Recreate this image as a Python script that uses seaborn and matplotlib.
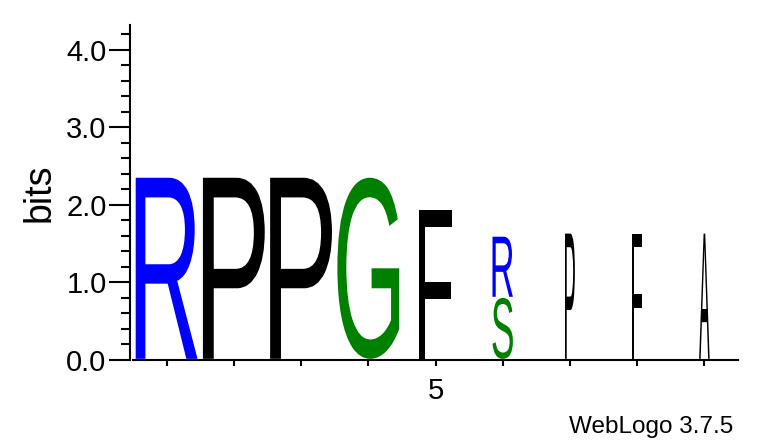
import numpy as np
import matplotlib
matplotlib.use("Agg")
import matplotlib.pyplot as plt
import seaborn as sns
from matplotlib.textpath import TextPath
from matplotlib.patches import PathPatch
from matplotlib.font_manager import FontProperties
from matplotlib.transforms import Affine2D
from matplotlib.ticker import MultipleLocator

positions    = [1, 2, 3, 4, 5, 6, 7, 8, 9]
column_width = [1.0, 1.0, 1.0, 1.0, 0.53, 0.33, 0.16, 0.16, 0.17]   # stack width fraction

# letters listed bottom-to-top inside each stack
letter_pos  = [1, 2, 3, 4, 5, 6, 6, 7, 8, 9]
letters     = ["R", "P", "P", "G", "F", "S", "R", "P", "F", "A"]
letter_bits = [2.35, 2.35, 2.35, 2.35, 1.93, 0.80, 0.79, 1.63, 1.63, 1.63]

y_ticks       = [0.0, 1.0, 2.0, 3.0, 4.0]
y_tick_labels = ["0.0", "1.0", "2.0", "3.0", "4.0"]
x_tick_labels = ["", "", "", "", "5", "", "", "", ""]
y_max         = 4.32

# ── Style ──────────────────────────────────────────────────
sns.set_style("ticks")
plt.rcParams["font.family"] = ["Liberation Sans", "DejaVu Sans"]

colours = {"R": "#0000ff", "S": "#008000", "G": "#008000",
           "P": "#000000", "F": "#000000", "A": "#000000"}
LOGO_FONT  = FontProperties(family="Liberation Sans", weight="normal")
FULL_WIDTH = 0.92
PAD        = 0.015

fig = plt.figure(figsize=(7.6, 4.44), dpi=100)
ax = fig.add_axes([133 / 760, 84 / 444, 605 / 760, 335 / 444])


def draw_letter(ax, ch, x_centre, y0, width, height, colour):
    tp = TextPath((0, 0), ch, size=1, prop=LOGO_FONT)
    bb = tp.get_extents()
    tr = (Affine2D()
          .translate(-bb.x0, -bb.y0)
          .scale(width / bb.width, height / bb.height)
          .translate(x_centre - width / 2, y0))
    ax.add_patch(PathPatch(tr.transform_path(tp), facecolor=colour,
                           edgecolor="none", transform=ax.transData))


# ── Draw stacks ────────────────────────────────────────────
stack_top = {p: 0.0 for p in positions}
for p, ch, h in zip(letter_pos, letters, letter_bits):
    w = FULL_WIDTH * column_width[positions.index(p)]
    y0 = stack_top[p]
    draw_letter(ax, ch, p, y0 + PAD, w, h - PAD, colours[ch])
    stack_top[p] = y0 + h

# ── Axes ───────────────────────────────────────────────────
ax.set_xlim(0.5, 9.5)
ax.set_ylim(0, y_max)
ax.set_xticks(positions)
ax.set_xticklabels(x_tick_labels)
ax.set_yticks(y_ticks)
ax.set_yticklabels(y_tick_labels)
ax.yaxis.set_minor_locator(MultipleLocator(0.2))
ax.tick_params(axis="y", which="major", length=15, width=1.5, pad=2,
               color="black", labelsize=21, labelcolor="black")
ax.tick_params(axis="y", which="minor", length=6.5, width=1.5, color="black")
ax.tick_params(axis="x", which="major", length=4, width=1.5, pad=8,
               color="black", labelsize=21, labelcolor="black")
ax.set_ylabel("bits", fontsize=27, labelpad=6, color="black")
sns.despine(ax=ax, top=True, right=True)
for side in ("left", "bottom"):
    ax.spines[side].set_linewidth(1.5)
    ax.spines[side].set_color("black")
ax.spines["left"].set_position(("outward", 2))

fig.text(733 / 760, 11 / 444, "WebLogo 3.7.5", ha="right", va="baseline",
         fontsize=17.5, color="black")

fig.savefig("out.png", dpi=100)
